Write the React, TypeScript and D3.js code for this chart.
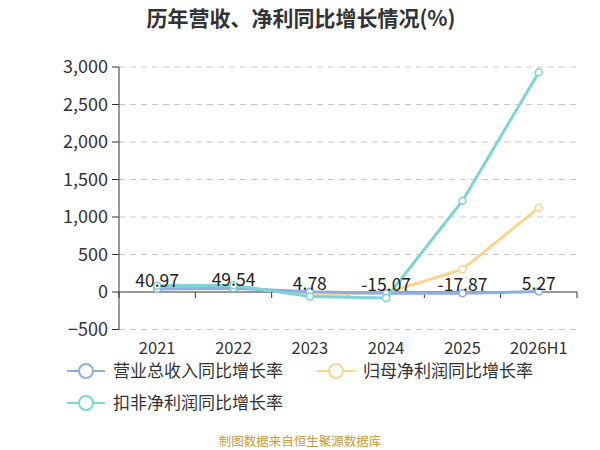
import React from "react";
import * as d3 from "d3";

const categories = ["2021", "2022", "2023", "2024", "2025", "2026H1"];
const revenueGrowth = [40.97, 49.54, 4.78, -15.07, -17.87, 5.27];
const netProfitGrowth = [70, 80, -40, -10, 302, 1124];
const deductedProfitGrowth = [85, 90, -60, -80, 1217, 2929];
const yTicks = [-500, 0, 500, 1000, 1500, 2000, 2500, 3000];

const seriesNames = ["营业总收入同比增长率", "归母净利润同比增长率", "扣非净利润同比增长率"];
const colors = ["#8eaee0", "#fdd48e", "#7dd4d8"];

export default function App() {
  const W = 600, H = 450;
  const left = 119, right = 577, top = 67, bottom = 329.5;
  const x = d3.scaleBand<string>().domain(categories).range([left, right]);
  const y = d3.scaleLinear().domain([-500, 3000]).range([bottom, top]);
  const cx = (c: string) => (x(c) as number) + x.bandwidth() / 2;
  const font = "'Noto Sans CJK SC', 'Noto Sans', sans-serif";
  const lineGen = d3.line<number>().x((_, i) => cx(categories[i])).y((v) => y(v));
  const order = [
    { data: netProfitGrowth, color: colors[1] },
    { data: revenueGrowth, color: colors[0] },
    { data: deductedProfitGrowth, color: colors[2] },
  ];
  const legend = [
    { name: seriesNames[0], color: colors[0], lx: 67, ly: 371 },
    { name: seriesNames[1], color: colors[1], lx: 317, ly: 371 },
    { name: seriesNames[2], color: colors[2], lx: 67, ly: 403 },
  ];
  const bounds = [left, ...categories.map((c) => (x(c) as number) + x.bandwidth())];
  return (
    <svg width={W} height={H} style={{ position: "absolute", left: 0, top: 0, background: "#fff" }} fontFamily={font}>
      <text x={301} y={26} textAnchor="middle" fontSize={21} fontWeight="bold" fill="#333">
        历年营收、净利同比增长情况(%)
      </text>
      {yTicks.map((t) => (
        <g key={t}>
          {t !== 0 && (
            <line x1={left} x2={right} y1={y(t)} y2={y(t)} stroke="#c8c8c8" strokeDasharray="6,5" />
          )}
          <line x1={left - 7} x2={left} y1={y(t)} y2={y(t)} stroke="#333" />
          <text x={left - 11} y={y(t)} dy="0.35em" textAnchor="end" fontSize={18} fill="#333">
            {d3.format(",")(t)}
          </text>
        </g>
      ))}
      <line x1={left} x2={left} y1={top} y2={bottom} stroke="#333" />
      <line x1={left} x2={right} y1={y(0)} y2={y(0)} stroke="#333" />
      {bounds.map((b, i) => (
        <line key={i} x1={b} x2={b} y1={y(0)} y2={y(0) + 6} stroke="#333" />
      ))}
      {categories.map((c) => (
        <text key={c} x={cx(c)} y={354} textAnchor="middle" fontSize={16.5} fill="#333">
          {c}
        </text>
      ))}
      {order.map((s, k) => (
        <g key={k}>
          <path d={lineGen(s.data) || ""} fill="none" stroke={s.color} strokeWidth={3} />
          {s.data.map((v, i) => (
            <circle key={i} cx={cx(categories[i])} cy={y(v)} r={3.5} fill="#fff" stroke={s.color} strokeWidth={1.5} />
          ))}
        </g>
      ))}
      {revenueGrowth.map((v, i) => (
        <text key={i} x={cx(categories[i])} y={y(v) - 2} textAnchor="middle" fontSize={17.5} fill="#222">
          {v.toFixed(2)}
        </text>
      ))}
      {legend.map((l) => (
        <g key={l.name}>
          <line x1={l.lx} x2={l.lx + 38} y1={l.ly} y2={l.ly} stroke={l.color} strokeWidth={2} />
          <circle cx={l.lx + 19} cy={l.ly} r={7} fill="#fff" stroke={l.color} strokeWidth={2} />
          <text x={l.lx + 46} y={l.ly} dy="0.35em" fontSize={17} fill="#333">
            {l.name}
          </text>
        </g>
      ))}
      <text x={300} y={446} textAnchor="middle" fontSize={12.5} fill="#cc9a35">
        制图数据来自恒生聚源数据库
      </text>
    </svg>
  );
}
